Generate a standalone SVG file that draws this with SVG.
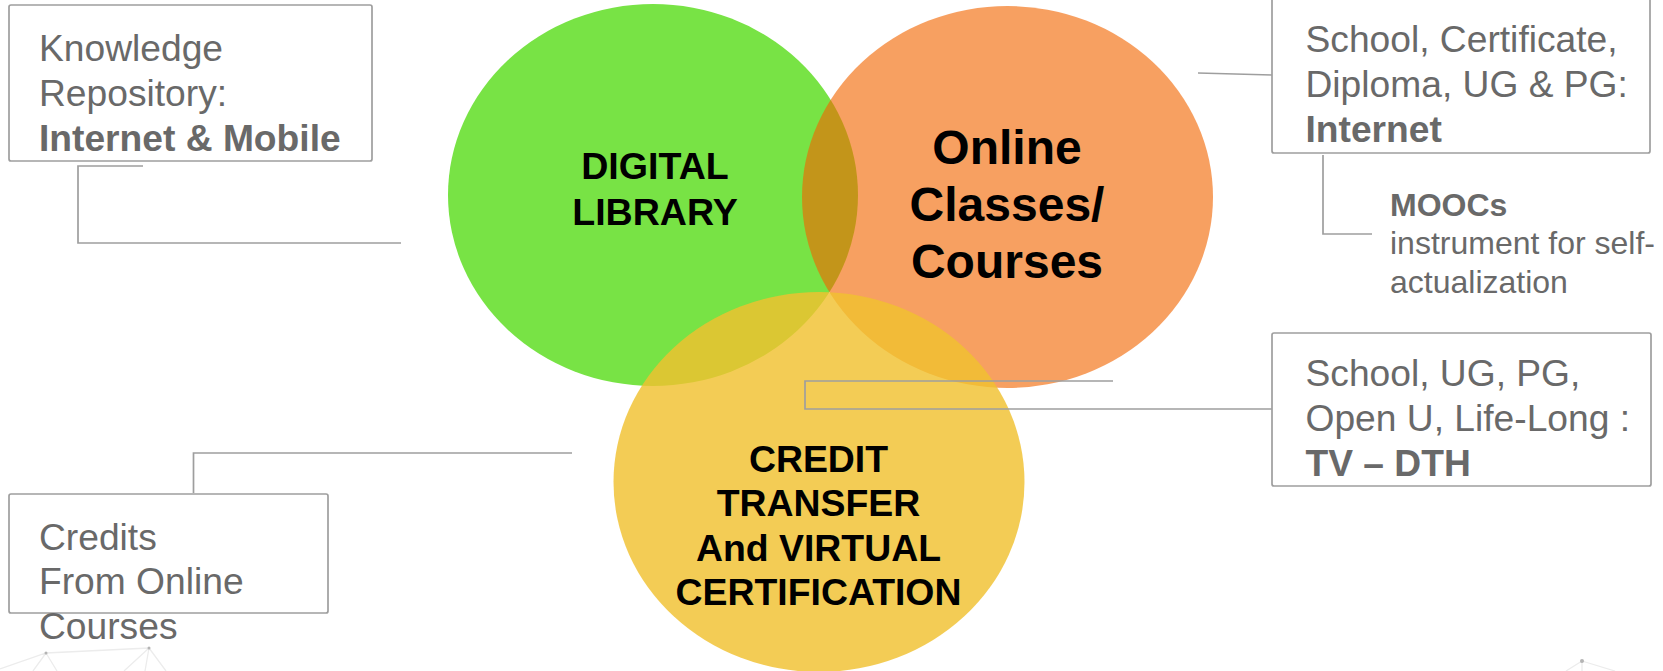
<svg xmlns="http://www.w3.org/2000/svg" width="1663" height="671" viewBox="0 0 1663 671">
<style>
text{font-family:"Liberation Sans",Arial,sans-serif}
.box{fill:none;stroke:#9e9e9e;stroke-width:1.7}
.con{fill:none;stroke:#9e9e9e;stroke-width:1.7}
.t{font-size:37.2px;fill:#696969}
.s{font-size:32px;fill:#696969}
.b{font-weight:700}
.c{fill:#000;font-weight:700;text-anchor:middle}
.deco{fill:none;stroke:#ececec;stroke-width:1.3}
.dot{fill:#b4b4b4}
</style>
<rect width="1663" height="671" fill="#fff"/>
<g id="backdrop">
<path class="deco" d="M0 669L46 653L149 648M46 653L33 671M46 653L57 671M149 648L124 671M149 648L145 671M149 648L166 671M1582 661L1566 671M1582 661V671M1582 661L1615 671"/>
<circle class="dot" cx="46" cy="653" r="1.5"/><circle class="dot" cx="149" cy="648" r="1.5"/><circle class="dot" cx="1582" cy="661" r="2"/>
</g>
<g id="node-digital-library">
<ellipse cx="653" cy="195" rx="205" ry="191" fill="#78e345"/>
</g>
<g id="node-online-classes">
<ellipse cx="1007.500" cy="197" rx="205.500" ry="191" fill="#f26500" fill-opacity="0.62"/>
</g>
<g id="node-credit-transfer">
<ellipse cx="819" cy="482" rx="205.500" ry="190" fill="#f0c130" fill-opacity="0.82"/>
</g>
<g id="labels-circles">
<text class="c" font-size="37.600" x="655"><tspan x="655" y="179">DIGITAL</tspan><tspan x="655" y="225">LIBRARY</tspan></text>
<text class="c" font-size="48" x="1007"><tspan x="1007" y="164">Online</tspan><tspan x="1007" y="221">Classes/</tspan><tspan x="1007" y="278">Courses</tspan></text>
<text class="c" font-size="37.400" x="818.500"><tspan x="818.500" y="472">CREDIT</tspan><tspan x="818.500" y="516">TRANSFER</tspan><tspan x="818.500" y="561">And VIRTUAL</tspan><tspan x="818.500" y="605">CERTIFICATION</tspan></text>
</g>
<g id="connectors">
<path class="con" d="M143 166H78V243H401"/>
<path class="con" d="M1198 73L1272 75"/>
<path class="con" d="M1323 155V234H1372"/>
<path class="con" d="M1113 381H805V409H1272"/>
<path class="con" d="M193.500 493V453H572"/>
</g>
<g id="node-knowledge">
<rect class="box" x="9" y="5" width="363" height="156" rx="2"/>
<text class="t"><tspan x="39" y="61">Knowledge</tspan><tspan x="39" y="106">Repository:</tspan><tspan x="39" y="151" class="b">Internet &amp; Mobile</tspan></text>
</g>
<g id="node-school-internet">
<rect class="box" x="1272" y="-2" width="378" height="155" rx="2"/>
<text class="t"><tspan x="1305.500" y="52">School, Certificate,</tspan><tspan x="1305.500" y="97">Diploma, UG &amp; PG:</tspan><tspan x="1305.500" y="142" class="b">Internet</tspan></text>
</g>
<g id="node-moocs">
<text class="s"><tspan x="1390" y="216" class="b">MOOCs</tspan><tspan x="1390" y="254">instrument for self-</tspan><tspan x="1390" y="293">actualization</tspan></text>
</g>
<g id="node-tv-dth">
<rect class="box" x="1272" y="333" width="379" height="153" rx="2"/>
<text class="t"><tspan x="1305.500" y="386">School, UG, PG,</tspan><tspan x="1305.500" y="431">Open U, Life-Long :</tspan><tspan x="1305.500" y="476" class="b">TV – DTH</tspan></text>
</g>
<g id="node-credits">
<rect class="box" x="9" y="494" width="319" height="119" rx="2"/>
<text class="t"><tspan x="39" y="550">Credits</tspan><tspan x="39" y="594">From Online</tspan><tspan x="39" y="639">Courses</tspan></text>
</g>
</svg>
